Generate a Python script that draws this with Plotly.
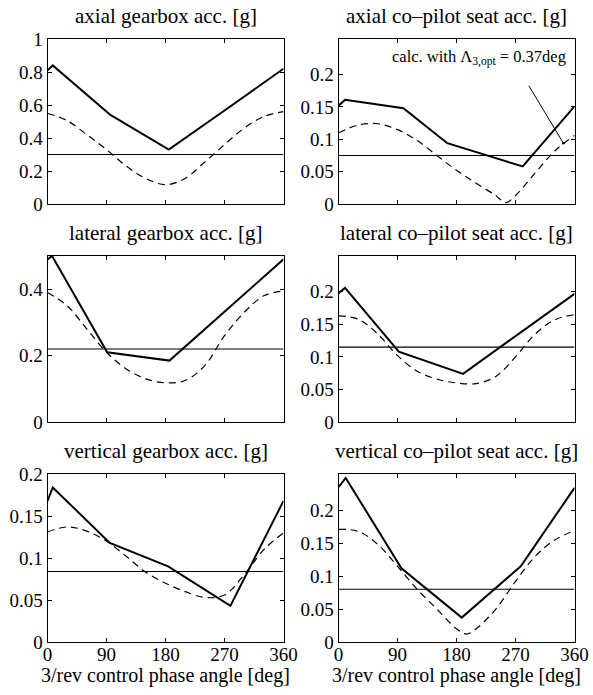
import plotly.graph_objects as go
from plotly.subplots import make_subplots

# ---------------- data ----------------
titles = ["axial gearbox acc. [g]", "axial co–pilot seat acc. [g]",
          "lateral gearbox acc. [g]", "lateral co–pilot seat acc. [g]",
          "vertical gearbox acc. [g]", "vertical co–pilot seat acc. [g]"]

phase_grid = [0, 30, 60, 90, 120, 150, 180, 210, 240, 270, 300, 330, 360]

# panel 1: axial gearbox
p1_meas_x = [0, 8, 96, 185, 282, 360]
p1_meas_y = [0.81, 0.84, 0.54, 0.33, 0.60, 0.82]
p1_calc_x = phase_grid
p1_calc_y = [0.55, 0.505, 0.42, 0.33, 0.23, 0.155, 0.117, 0.155, 0.255, 0.36, 0.46, 0.53, 0.56]
p1_ref = 0.30

# panel 2: axial co-pilot seat
p2_meas_x = [0, 10, 99, 166, 281, 360]
p2_meas_y = [0.152, 0.161, 0.148, 0.094, 0.058, 0.151]
p2_calc_x = [0, 30, 60, 90, 120, 150, 180, 210, 240, 255, 270, 300, 330, 360]
p2_calc_y = [0.110, 0.122, 0.124, 0.115, 0.098, 0.075, 0.052, 0.032, 0.013, 0.002, 0.013, 0.048, 0.082, 0.106]
p2_ref = 0.075

# panel 3: lateral gearbox
p3_meas_x = [0, 7, 91, 186, 360]
p3_meas_y = [0.49, 0.50, 0.21, 0.185, 0.49]
p3_calc_x = phase_grid
p3_calc_y = [0.39, 0.35, 0.28, 0.21, 0.16, 0.13, 0.118, 0.125, 0.17, 0.26, 0.33, 0.38, 0.395]
p3_ref = 0.22

# panel 4: lateral co-pilot seat
p4_meas_x = [0, 10, 92, 190, 360]
p4_meas_y = [0.198, 0.206, 0.108, 0.074, 0.197]
p4_calc_x = phase_grid
p4_calc_y = [0.163, 0.158, 0.135, 0.102, 0.078, 0.066, 0.060, 0.059, 0.070, 0.100, 0.135, 0.157, 0.165]
p4_ref = 0.115

# panel 5: vertical gearbox
p5_meas_x = [0, 8, 95, 184, 279, 360]
p5_meas_y = [0.168, 0.184, 0.118, 0.090, 0.043, 0.168]
p5_calc_x = phase_grid
p5_calc_y = [0.131, 0.137, 0.132, 0.120, 0.102, 0.083, 0.070, 0.060, 0.053, 0.056, 0.080, 0.110, 0.130]
p5_ref = 0.084

# panel 6: vertical co-pilot seat
p6_meas_x = [0, 11, 96, 188, 278, 360]
p6_meas_y = [0.235, 0.249, 0.112, 0.037, 0.115, 0.234]
p6_calc_x = [0, 30, 60, 90, 120, 150, 180, 195, 210, 240, 270, 300, 330, 360]
p6_calc_y = [0.171, 0.168, 0.148, 0.115, 0.080, 0.050, 0.020, 0.012, 0.020, 0.050, 0.092, 0.130, 0.155, 0.169]
p6_ref = 0.080

y_ranges = [[0, 1], [0, 0.255], [0, 0.5], [0, 0.255], [0, 0.2], [0, 0.255]]
y_ticks = [[0, 0.2, 0.4, 0.6, 0.8, 1],
           [0, 0.05, 0.1, 0.15, 0.2],
           [0, 0.2, 0.4],
           [0, 0.05, 0.1, 0.15, 0.2],
           [0, 0.05, 0.1, 0.15, 0.2],
           [0, 0.05, 0.1, 0.15, 0.2]]
y_ticktext = [["0", "0.2", "0.4", "0.6", "0.8", "1"],
              ["0", "0.05", "0.1", "0.15", "0.2"],
              ["0", "0.2", "0.4"],
              ["0", "0.05", "0.1", "0.15", "0.2"],
              ["0", "0.05", "0.1", "0.15", "0.2"],
              ["0", "0.05", "0.1", "0.15", "0.2"]]
x_ticks = [0, 90, 180, 270, 360]
x_ticktext = ["0", "90", "180", "270", "360"]
x_title = "3/rev control phase angle [deg]"

panels = [
    (p1_meas_x, p1_meas_y, p1_calc_x, p1_calc_y, p1_ref),
    (p2_meas_x, p2_meas_y, p2_calc_x, p2_calc_y, p2_ref),
    (p3_meas_x, p3_meas_y, p3_calc_x, p3_calc_y, p3_ref),
    (p4_meas_x, p4_meas_y, p4_calc_x, p4_calc_y, p4_ref),
    (p5_meas_x, p5_meas_y, p5_calc_x, p5_calc_y, p5_ref),
    (p6_meas_x, p6_meas_y, p6_calc_x, p6_calc_y, p6_ref),
]

# ---------------- figure ----------------
W, H = 593, 695
FONT = "Liberation Serif, Times New Roman, serif"
TICK_SIZE = 19
TITLE_SIZE = 21

fig = make_subplots(rows=3, cols=2)

col_px = [(47.5, 283.5), (338.5, 574.5)]
row_px = [(39, 204), (256, 422), (474, 642)]

for i, (mx, my, cx, cy, ref) in enumerate(panels):
    r, c = i // 2 + 1, i % 2 + 1
    fig.add_trace(go.Scatter(x=cx, y=cy, mode="lines",
                             line=dict(color="black", width=1.2, dash="7px,5px", shape="spline", smoothing=1.0),
                             showlegend=False, hoverinfo="skip"), row=r, col=c)
    fig.add_trace(go.Scatter(x=[0, 360], y=[ref, ref], mode="lines", line=dict(color="black", width=1.1),
                             showlegend=False, hoverinfo="skip"), row=r, col=c)
    fig.add_trace(go.Scatter(x=mx, y=my, mode="lines", line=dict(color="black", width=2),
                             showlegend=False, hoverinfo="skip"), row=r, col=c)

    x0, x1 = col_px[c - 1]
    yt, yb = row_px[r - 1]
    ax_idx = "" if i == 0 else str(i + 1)
    fig.layout["xaxis" + ax_idx].update(
        domain=[x0 / W, x1 / W], range=[0, 360], tickvals=x_ticks, ticktext=x_ticktext,
        showticklabels=(r == 3), ticklabeloverflow="allow", ticklabelstandoff=-5,
        ticks="inside", ticklen=4, tickcolor="black", tickwidth=1,
        showline=True, linecolor="black", linewidth=1, mirror="allticks",
        showgrid=False, zeroline=False, automargin=False,
        tickfont=dict(family=FONT, size=TICK_SIZE, color="black"),
    )
    fig.layout["yaxis" + ax_idx].update(
        domain=[1 - yb / H, 1 - yt / H], range=y_ranges[i], tickvals=y_ticks[i], ticktext=y_ticktext[i],
        ticks="inside", ticklen=4, tickcolor="black", tickwidth=1, ticklabeloverflow="allow",
        showline=True, linecolor="black", linewidth=1, mirror="allticks",
        showgrid=False, zeroline=False, automargin=False,
        tickfont=dict(family=FONT, size=TICK_SIZE, color="black"),
    )
    fig.add_annotation(text=titles[i], x=(x0 + x1) / 2 / W, y=1 - (yt - 23) / H, xref="paper", yref="paper",
                       showarrow=False, font=dict(family=FONT, size=TITLE_SIZE, color="black"),
                       xanchor="center", yanchor="middle")
    if r == 3:
        fig.add_annotation(text=x_title, x=(x0 + x1) / 2 / W, y=1 - 675 / H, xref="paper", yref="paper",
                           showarrow=False, font=dict(family=FONT, size=20, color="black"),
                           xanchor="center", yanchor="middle")

# annotation in panel 2
fig.add_annotation(x=343, y=0.094, ax=289, ay=0.185, xref="x2", yref="y2", axref="x2", ayref="y2",
                   text="", showarrow=True, arrowhead=6, arrowsize=0.6, arrowwidth=1, arrowcolor="black")
fig.add_annotation(x=214, y=0.226, xref="x2", yref="y2", text="calc. with Λ<sub>3,opt</sub> = 0.37deg",
                   showarrow=False, font=dict(family=FONT, size=16.5, color="black"))

fig.update_layout(width=W, height=H, margin=dict(l=0, r=0, t=0, b=0),
                  paper_bgcolor="white", plot_bgcolor="white", showlegend=False)

fig.write_html("out.html", config={"displayModeBar": False},
               post_script="document.body.style.margin='0';")
